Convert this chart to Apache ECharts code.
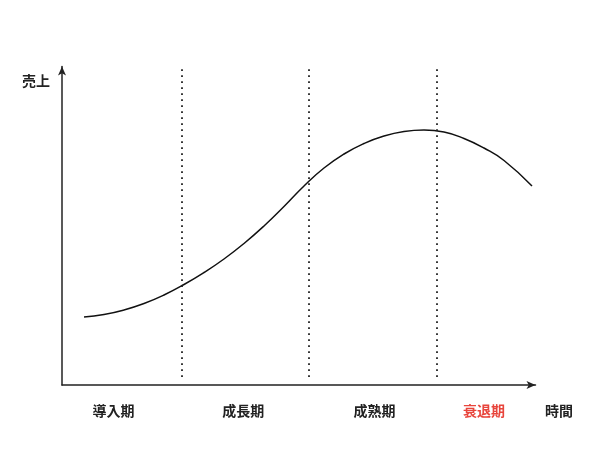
<!DOCTYPE html>
<html>
<head>
<meta charset="utf-8">
<script src="https://cdn.jsdelivr.net/npm/echarts@6/dist/echarts.min.js"></script>
<style>
  html, body { margin: 0; padding: 0; background: #fff; }
  #main { width: 600px; height: 450px; }
</style>
</head>
<body>
<div id="main"></div>
<script>
// 製品ライフサイクル
var timeX = [4.65, 8.87, 13.09, 17.32, 21.54, 25.77, 29.99, 34.21, 38.44, 42.66, 46.88, 51.11, 55.33, 59.56, 63.78, 68.00, 72.23, 76.45, 80.68, 84.90, 89.12, 93.35, 99.26];
var sales = [21.35, 22.13, 23.55, 25.59, 28.26, 31.56, 35.32, 39.56, 44.43, 49.92, 56.04, 62.48, 68.13, 72.53, 75.82, 78.18, 79.59, 80.06, 79.43, 77.39, 74.41, 70.49, 62.48];

var stageNames = ['導入期', '成長期', '成熟期', '衰退期'];
var stageLabelX = [10.9, 38.3, 66.0, 89.1];
var stageBounds = [25.3, 52.2, 79.2];
var boundFrom = 2.5;
var boundTo = 99.5;

var font = '"Noto Sans CJK JP", "Noto Sans", sans-serif';

var myChart = echarts.init(document.getElementById('main'));

var points = [];
for (var i = 0; i < timeX.length; i++) {
  points.push([timeX[i], sales[i]]);
}

var bounds = [];
for (var j = 0; j < stageBounds.length; j++) {
  bounds.push([{ coord: [stageBounds[j], boundFrom] }, { coord: [stageBounds[j], boundTo] }]);
}

myChart.setOption({
  animation: false,
  grid: {
    left: 62,
    right: 64.5,
    top: 66.5,
    bottom: 65
  },
  xAxis: {
    type: 'value',
    min: 0,
    max: 100,
    // 改行で軸の下に下ろす
    name: '\n時間',
    nameLocation: 'end',
    nameGap: 9.5,
    nameTextStyle: {
      fontFamily: font,
      fontSize: 14,
      fontWeight: 'bold',
      color: '#222',
      align: 'left',
      verticalAlign: 'top',
      lineHeight: 17
    },
    splitLine: { show: false },
    axisTick: { show: false },
    axisLine: {
      show: true,
      symbol: ['none', 'arrow'],
      symbolSize: [6, 9],
      lineStyle: { color: '#222', width: 1.5 }
    },
    axisLabel: {
      customValues: stageLabelX,
      margin: 18.5,
      fontFamily: font,
      fontSize: 14,
      fontWeight: 'bold',
      color: '#222',
      formatter: function (v) {
        var k = 0;
        for (var n = 1; n < stageLabelX.length; n++) {
          if (Math.abs(stageLabelX[n] - v) < Math.abs(stageLabelX[k] - v)) k = n;
        }
        if (k == stageNames.length - 1) return '{r|' + stageNames[k] + '}';
        return stageNames[k];
      },
      rich: {
        r: {
          fontFamily: font,
          fontSize: 14,
          fontWeight: 'bold',
          color: '#e8453c'
        }
      }
    }
  },
  yAxis: {
    type: 'value',
    min: 0,
    max: 100,
    name: '売上',
    nameLocation: 'end',
    nameGap: -14.5,
    nameTextStyle: {
      fontFamily: font,
      fontSize: 14,
      fontWeight: 'bold',
      color: '#222',
      align: 'right',
      verticalAlign: 'middle',
      padding: [0, 12, 0, 0]
    },
    splitLine: { show: false },
    axisTick: { show: false },
    axisLabel: { show: false },
    axisLine: {
      show: true,
      symbol: ['none', 'arrow'],
      symbolSize: [6, 9],
      lineStyle: { color: '#222', width: 1.5 }
    }
  },
  series: [{
    type: 'line',
    data: points,
    smooth: 0.5,
    symbol: 'none',
    lineStyle: { color: '#111', width: 1.5 },
    markLine: {
      silent: true,
      symbol: ['none', 'none'],
      label: { show: false },
      lineStyle: { color: '#222', width: 1.8, type: [1.8, 4.2] },
      data: bounds
    }
  }]
});
</script>
</body>
</html>
